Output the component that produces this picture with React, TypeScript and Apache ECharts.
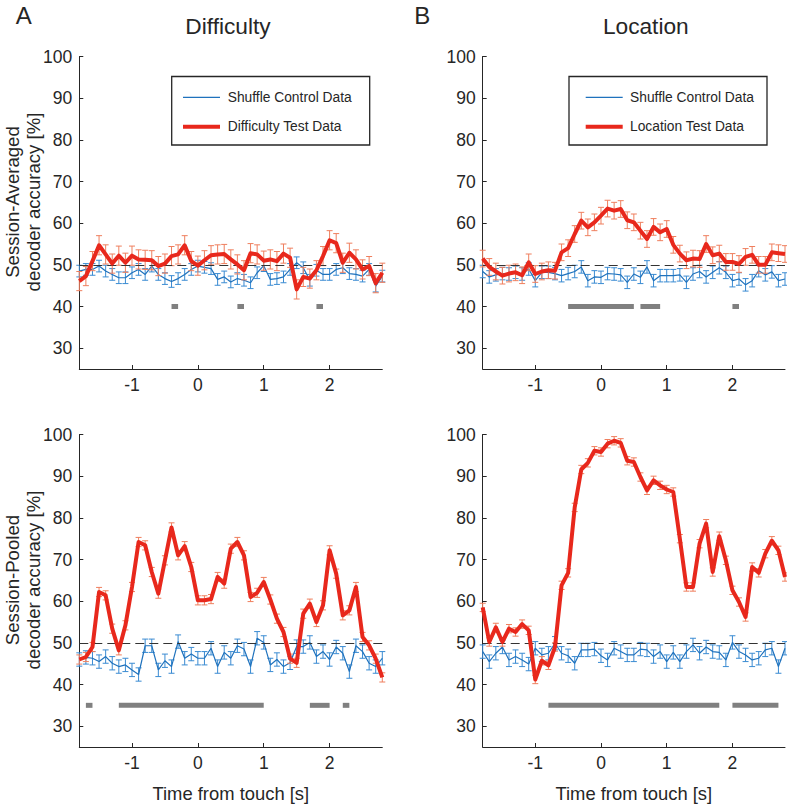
import React, { useEffect, useRef } from 'react';
import * as echarts from 'echarts';

// Time bins (s)
const times = [
  -1.8, -1.7, -1.6, -1.5, -1.4, -1.3, -1.2, -1.1, -1.0, -0.9, -0.8, -0.7, -0.6, -0.5, -0.4, -0.3,
  -0.2, -0.1, 0.0, 0.1, 0.2, 0.3, 0.4, 0.5, 0.6, 0.7, 0.8, 0.9, 1.0, 1.1, 1.2, 1.3, 1.4, 1.5,
  1.6, 1.7, 1.8, 1.9, 2.0, 2.1, 2.2, 2.3, 2.4, 2.5, 2.6, 2.7, 2.8,
];

// A: Difficulty, session-averaged
const diffAvgTest = [
  46.1, 47.3, 50.9, 54.7, 52.5, 50.3, 52.2, 50.5, 52.2, 51.3, 51.2, 51.1, 49.7, 50.3, 52.1, 52.5,
  54.7, 50.9, 49.8, 51.1, 52.3, 52.5, 52.6, 51.3, 50.1, 48.7, 52.8, 52.5, 51.0, 51.3, 50.9, 52.7,
  51.7, 44.1, 47.1, 46.7, 48.7, 52.1, 55.9, 55.2, 50.5, 52.9, 51.3, 48.9, 49.7, 45.6, 48.1,
];
const diffAvgShuffle = [
  48.5, 48.9, 48.9, 49.7, 48.5, 47.7, 46.9, 46.9, 48.1, 48.9, 47.7, 49.7, 47.7, 46.7, 46.0, 46.7,
  47.7, 48.9, 49.7, 49.4, 49.1, 46.5, 47.1, 45.9, 46.7, 46.3, 45.7, 48.1, 49.8, 46.5, 46.7, 47.1,
  48.9, 50.5, 49.3, 46.3, 48.7, 47.7, 47.7, 48.9, 49.3, 47.9, 47.7, 47.3, 48.9, 44.9, 47.3,
];
// B: Location, session-averaged
const locAvgTest = [
  51.5, 49.5, 48.4, 47.4, 47.9, 48.2, 47.5, 50.6, 47.8, 48.4, 48.7, 48.6, 53.0, 54.0, 57.4, 60.6,
  59.0, 60.2, 61.8, 63.5, 63.0, 63.4, 60.7, 60.2, 58.2, 56.2, 59.1, 57.8, 58.6, 54.8, 52.7, 51.1,
  51.5, 51.4, 55.0, 52.3, 52.7, 50.7, 50.7, 50.2, 51.9, 52.4, 50.0, 50.0, 53.0, 52.8, 52.6,
];
const locAvgShuffle = [
  48.4, 47.1, 47.6, 47.9, 47.8, 48.2, 47.8, 49.0, 46.2, 48.2, 48.2, 47.9, 47.4, 47.9, 48.4, 49.5,
  46.2, 47.1, 47.0, 47.9, 47.8, 47.6, 45.8, 47.8, 47.0, 49.5, 46.2, 47.4, 47.4, 47.4, 47.6, 45.8,
  47.8, 48.4, 47.1, 48.2, 49.3, 48.2, 46.2, 46.6, 45.2, 46.2, 48.6, 47.6, 48.3, 46.2, 46.6,
];
// A: Difficulty, session-pooled
const diffPoolTest = [
  46.0, 46.6, 49.0, 62.2, 61.4, 53.4, 48.2, 54.2, 63.4, 74.2, 73.4, 67.0, 61.8, 69.8, 77.7, 71.0,
  73.2, 68.2, 60.2, 60.2, 60.5, 65.8, 64.2, 72.6, 74.2, 71.0, 61.0, 62.0, 64.6, 60.4, 55.8, 52.6,
  46.2, 45.2, 57.0, 59.4, 55.0, 59.0, 72.2, 66.6, 56.6, 57.8, 63.4, 51.4, 49.4, 46.2, 41.7,
];
const diffPoolShuffle = [
  46.0, 46.5, 46.3, 45.5, 46.7, 45.1, 44.3, 44.7, 43.5, 42.4, 49.3, 49.3, 43.5, 45.7, 44.3, 50.3,
  46.3, 47.3, 46.3, 46.3, 48.7, 44.3, 47.7, 46.3, 49.3, 48.5, 44.3, 51.1, 50.1, 44.7, 46.0, 44.3,
  45.2, 49.1, 49.1, 50.1, 46.7, 47.9, 46.0, 49.0, 47.5, 43.1, 49.3, 47.9, 45.1, 44.3, 46.3,
];
// B: Location, session-pooled
const locPoolTest = [
  58.5, 50.2, 53.7, 50.2, 53.4, 52.6, 54.5, 53.0, 41.2, 45.7, 44.6, 49.0, 63.8, 66.8, 82.5, 91.6,
  93.2, 96.1, 95.8, 97.8, 98.5, 98.0, 93.7, 93.4, 89.8, 86.6, 89.0, 87.8, 86.8, 86.2, 75.0, 63.4,
  63.4, 73.8, 78.6, 67.0, 75.6, 69.8, 62.6, 59.8, 56.2, 68.2, 66.8, 71.4, 74.5, 72.2, 65.8,
];
const locPoolShuffle = [
  47.9, 45.5, 47.5, 49.0, 45.9, 46.7, 45.9, 44.9, 48.7, 47.1, 47.5, 49.9, 47.5, 46.9, 45.1, 48.3,
  48.3, 48.5, 46.9, 45.9, 48.7, 47.9, 47.1, 47.1, 48.5, 48.3, 46.7, 47.9, 45.5, 47.7, 45.5, 47.9,
  49.5, 47.5, 49.0, 47.9, 47.7, 45.9, 50.1, 47.9, 47.1, 45.9, 46.3, 48.3, 48.7, 44.3, 48.7,
];

// Approximate error-bar half widths (SEM) per series
const errDiffAvgTest = 2.3;
const errDiffAvgShuffle = 1.4;
const errLocAvgTest = 2.0;
const errLocAvgShuffle = 1.5;
const errDiffPoolTest = 1.1;
const errDiffPoolShuffle = 1.6;
const errLocPoolTest = 1.0;
const errLocPoolShuffle = 1.6;

// Significance intervals [start, end] (s)
const sigDiffAvg = [[-0.4, -0.3], [0.6, 0.7], [1.8, 1.9]];
const sigLocAvg = [[-0.5, 0.5], [0.6, 0.9], [2.0, 2.1]];
const sigDiffPool = [[-1.7, -1.6], [-1.2, 1.0], [1.7, 2.0], [2.2, 2.3]];
const sigLocPool = [[-0.8, 1.8], [2.0, 2.7]];
const sigLevelAvg = 40;
const sigLevelPool = 35;

const yTicks = [30, 40, 50, 60, 70, 80, 90, 100];
const xTicks = [-1, 0, 1, 2];
const chance = 50;

const FONT = '"Liberation Sans", Arial, Helvetica, sans-serif';
const RED = '#e8281c';
const RED_ERR = '#ef7f5e';
const BLUE = '#1f72bd';
const BLUE_ERR = '#3a8bd2';
const GRAY = '#808080';
const INK = '#262626';

const panels = [
  { test: diffAvgTest, shuffle: diffAvgShuffle, eT: errDiffAvgTest, eS: errDiffAvgShuffle, sig: sigDiffAvg, lvl: sigLevelAvg },
  { test: locAvgTest, shuffle: locAvgShuffle, eT: errLocAvgTest, eS: errLocAvgShuffle, sig: sigLocAvg, lvl: sigLevelAvg },
  { test: diffPoolTest, shuffle: diffPoolShuffle, eT: errDiffPoolTest, eS: errDiffPoolShuffle, sig: sigDiffPool, lvl: sigLevelPool },
  { test: locPoolTest, shuffle: locPoolShuffle, eT: errLocPoolTest, eS: errLocPoolShuffle, sig: sigLocPool, lvl: sigLevelPool },
];

const gridBoxes = [
  { left: 79.3, top: 56.5, width: 303, height: 312.5 },
  { left: 482.7, top: 56.5, width: 302.3, height: 312.5 },
  { left: 79.3, top: 434.5, width: 303, height: 312.5 },
  { left: 482.7, top: 434.5, width: 302.3, height: 312.5 },
];

const errRender = (color: string) => (params: any, api: any) => {
  const x = api.value(0);
  const a = api.coord([x, api.value(1)]);
  const b = api.coord([x, api.value(2)]);
  const w = 3;
  const st = { stroke: color, lineWidth: 1 };
  return {
    type: 'group',
    children: [
      { type: 'line', shape: { x1: a[0], y1: a[1], x2: b[0], y2: b[1] }, style: st },
      { type: 'line', shape: { x1: a[0] - w, y1: a[1], x2: a[0] + w, y2: a[1] }, style: st },
      { type: 'line', shape: { x1: b[0] - w, y1: b[1], x2: b[0] + w, y2: b[1] }, style: st },
    ],
  };
};

const sigRender = (params: any, api: any) => {
  const s = api.coord([api.value(0), api.value(2)]);
  const e = api.coord([api.value(1), api.value(2)]);
  return {
    type: 'rect',
    shape: { x: s[0], y: s[1] - 2.5, width: e[0] - s[0], height: 5 },
    style: { fill: GRAY },
  };
};

function buildOption() {
  const series: any[] = [];
  panels.forEach((p, i) => {
    series.push({
      type: 'custom',
      xAxisIndex: i,
      yAxisIndex: i,
      silent: true,
      clip: false,
      renderItem: errRender(BLUE_ERR),
      encode: { x: 0, y: [1, 2] },
      data: times.map((t, k) => [t, p.shuffle[k] - p.eS, p.shuffle[k] + p.eS]),
      z: 2,
    });
    series.push({
      type: 'line',
      xAxisIndex: i,
      yAxisIndex: i,
      silent: true,
      showSymbol: false,
      lineStyle: { color: BLUE, width: 1.2 },
      data: times.map((t, k) => [t, p.shuffle[k]]),
      z: 3,
      markLine: {
        silent: true,
        symbol: 'none',
        label: { show: false },
        lineStyle: { color: '#333333', width: 1, type: [9, 5] },
        data: [{ yAxis: chance }],
      },
    });
    series.push({
      type: 'custom',
      xAxisIndex: i,
      yAxisIndex: i,
      silent: true,
      clip: false,
      renderItem: errRender(RED_ERR),
      encode: { x: 0, y: [1, 2] },
      data: times.map((t, k) => [t, p.test[k] - p.eT, p.test[k] + p.eT]),
      z: 4,
    });
    series.push({
      type: 'line',
      xAxisIndex: i,
      yAxisIndex: i,
      silent: true,
      showSymbol: false,
      lineStyle: { color: RED, width: 4, join: 'round' },
      data: times.map((t, k) => [t, p.test[k]]),
      z: 5,
    });
    series.push({
      type: 'custom',
      xAxisIndex: i,
      yAxisIndex: i,
      silent: true,
      renderItem: sigRender,
      encode: { x: [0, 1], y: 2 },
      data: p.sig.map((s) => [s[0], s[1], p.lvl]),
      z: 6,
    });
  });

  const xAxis = gridBoxes.map((_, i) => ({
    type: 'value',
    gridIndex: i,
    min: -1.8,
    max: 2.8,
    axisLine: { show: true, onZero: false, lineStyle: { color: INK, width: 1 } },
    axisTick: { show: true, inside: true, length: 4, customValues: xTicks, lineStyle: { color: INK } },
    axisLabel: { show: true, customValues: xTicks, margin: 7, fontSize: 17.5, color: INK, fontFamily: FONT },
    splitLine: { show: false },
  }));
  const yAxis = gridBoxes.map((_, i) => ({
    type: 'value',
    gridIndex: i,
    min: 25,
    max: 100,
    axisLine: { show: true, onZero: false, lineStyle: { color: INK, width: 1 } },
    axisTick: { show: true, inside: true, length: 4, customValues: yTicks, lineStyle: { color: INK } },
    axisLabel: { show: true, customValues: yTicks, margin: 7, fontSize: 17.5, color: INK, fontFamily: FONT },
    splitLine: { show: false },
  }));

  const txt = (x: number, y: number, text: string, size: number, extra: any = {}) => ({
    type: 'text',
    x,
    y,
    silent: true,
    ...extra,
    style: {
      text,
      fontSize: size,
      fontFamily: FONT,
      fill: INK,
      align: 'center',
      verticalAlign: 'middle',
      ...(extra.style || {}),
    },
  });

  const legend = (bx: number, lineX: number, textX: number, label: string) => [
    {
      type: 'rect',
      silent: true,
      shape: { x: bx, y: 76.5, width: 198, height: 68.5 },
      style: { fill: '#ffffff', stroke: '#262626', lineWidth: 1.3 },
      z: 10,
    },
    {
      type: 'line',
      silent: true,
      shape: { x1: lineX, y1: 97.3, x2: lineX + 37, y2: 97.3 },
      style: { stroke: BLUE, lineWidth: 1.3 },
      z: 11,
    },
    {
      type: 'line',
      silent: true,
      shape: { x1: lineX, y1: 126.7, x2: lineX + 37, y2: 126.7 },
      style: { stroke: RED, lineWidth: 4 },
      z: 11,
    },
    { ...txt(textX, 97.3, 'Shuffle Control Data', 13.8, { style: { align: 'left' } }), z: 11 },
    { ...txt(textX, 126.7, label, 13.8, { style: { align: 'left' } }), z: 11 },
  ];

  const graphic = [
    txt(23.7, 15.5, 'A', 24),
    txt(422.3, 15.3, 'B', 24),
    txt(228, 25.5, 'Difficulty', 22.7),
    txt(645.8, 25.5, 'Location', 22.7),
    txt(22.8, 202, 'Session-Averaged\ndecoder accuracy [%]', 18.6, { rotation: Math.PI / 2, style: { lineHeight: 21 } }),
    txt(22.8, 580, 'Session-Pooled\ndecoder accuracy [%]', 18.6, { rotation: Math.PI / 2, style: { lineHeight: 21 } }),
    txt(230.8, 793, 'Time from touch [s]', 18.4),
    txt(633.8, 793, 'Time from touch [s]', 18.4),
    ...legend(171.7, 183, 227.7, 'Difficulty Test Data'),
    ...legend(569, 585.7, 630, 'Location Test Data'),
  ];

  return {
    animation: false,
    backgroundColor: '#ffffff',
    textStyle: { fontFamily: FONT },
    grid: gridBoxes.map((g) => ({ ...g, containLabel: false })),
    xAxis,
    yAxis,
    series,
    graphic,
  };
}

export default function App() {
  const ref = useRef<HTMLDivElement>(null);
  useEffect(() => {
    document.body.style.margin = '0';
    if (!ref.current) return;
    const chart = echarts.init(ref.current, null, { renderer: 'svg' });
    chart.setOption(buildOption() as any);
    return () => chart.dispose();
  }, []);
  return (
    <div
      ref={ref}
      style={{ position: 'absolute', left: 0, top: 0, width: 787, height: 806, background: '#fff' }}
    />
  );
}
